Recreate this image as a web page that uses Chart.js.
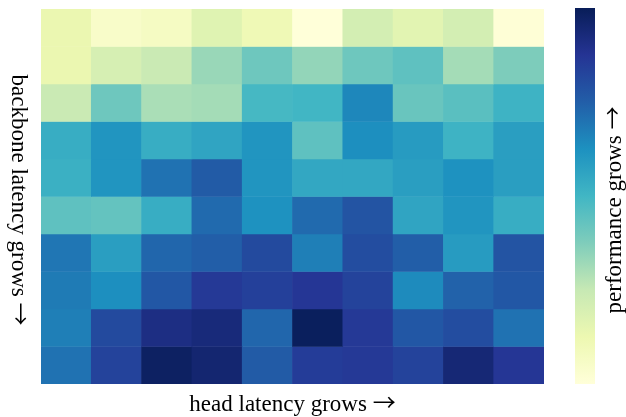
<!DOCTYPE html>
<html>
<head>
<meta charset="utf-8">
<script src="https://cdn.jsdelivr.net/npm/chart.js@4/dist/chart.umd.min.js"></script>
<style>
  html, body { margin: 0; padding: 0; background: #ffffff; }
  #wrap { position: relative; width: 626px; height: 417px; overflow: hidden; }
  #heat { position: absolute; left: 0; top: 0; }
  #cbar { position: absolute; left: 560px; top: 0; }
</style>
</head>
<body>
<div id="wrap">
  <canvas id="heat" width="560" height="417"></canvas>
  <canvas id="cbar" width="66" height="417"></canvas>
</div>
<script>
// Head latency settings (columns, left to right)
const headSteps = ['H1', 'H2', 'H3', 'H4', 'H5', 'H6', 'H7', 'H8', 'H9', 'H10'];
// Backbone latency settings (rows, top to bottom)
const backboneSteps = ['B1', 'B2', 'B3', 'B4', 'B5', 'B6', 'B7', 'B8', 'B9', 'B10'];

// Normalised performance per backbone row
const perfB1  = [0.13, 0.05, 0.07, 0.17, 0.11, 0.00, 0.21, 0.16, 0.21, 0.01];
const perfB2  = [0.13, 0.20, 0.24, 0.33, 0.41, 0.34, 0.41, 0.44, 0.31, 0.38];
const perfB3  = [0.24, 0.41, 0.30, 0.31, 0.49, 0.50, 0.65, 0.42, 0.45, 0.51];
const perfB4  = [0.53, 0.61, 0.53, 0.56, 0.61, 0.44, 0.63, 0.59, 0.51, 0.58];
const perfB5  = [0.52, 0.61, 0.70, 0.76, 0.61, 0.55, 0.55, 0.58, 0.62, 0.58];
const perfB6  = [0.44, 0.43, 0.53, 0.72, 0.62, 0.72, 0.78, 0.56, 0.61, 0.53];
const perfB7  = [0.69, 0.58, 0.73, 0.75, 0.81, 0.67, 0.80, 0.75, 0.59, 0.78];
const perfB8  = [0.68, 0.63, 0.77, 0.86, 0.84, 0.87, 0.83, 0.64, 0.74, 0.77];
const perfB9  = [0.67, 0.81, 0.91, 0.93, 0.73, 0.99, 0.86, 0.77, 0.80, 0.70];
const perfB10 = [0.70, 0.83, 0.98, 0.95, 0.76, 0.85, 0.86, 0.83, 0.94, 0.87];
const perfRows = [perfB1, perfB2, perfB3, perfB4, perfB5, perfB6, perfB7, perfB8, perfB9, perfB10];

// Axis captions
const headCaption = 'head latency grows ';
const backboneCaption = 'backbone latency grows ';
const perfCaption = 'performance grows ';
const ARROW = '\u2192';

// YlGnBu colour ramp
const ylgnbuStops = ['#ffffd9', '#edf8b1', '#c7e9b4', '#7fcdbb', '#41b6c4',
                     '#1d91c0', '#225ea8', '#253494', '#081d58'];

function hexToRgb(h) {
  return [parseInt(h.slice(1, 3), 16), parseInt(h.slice(3, 5), 16), parseInt(h.slice(5, 7), 16)];
}
function ylgnbu(v) {
  const t = Math.min(1, Math.max(0, v)) * (ylgnbuStops.length - 1);
  const i = Math.min(ylgnbuStops.length - 2, Math.floor(t));
  const f = t - i;
  const a = hexToRgb(ylgnbuStops[i]), b = hexToRgb(ylgnbuStops[i + 1]);
  const c = a.map((x, k) => Math.round(x + (b[k] - x) * f));
  return `rgb(${c[0]},${c[1]},${c[2]})`;
}

const TEXT_FONT = '23px "Liberation Serif", "DejaVu Serif", serif';
const ARROW_FONT = '23px "Noto Sans CJK SC", "DejaVu Sans", sans-serif';

// Draws "caption →" centred on (cx, cy) after rotating by angle
function drawCaption(ctx, text, cx, cy, angle) {
  ctx.save();
  ctx.fillStyle = '#000000';
  ctx.textBaseline = 'alphabetic';
  ctx.textAlign = 'left';
  ctx.font = TEXT_FONT;
  const w1 = ctx.measureText(text).width;
  ctx.font = ARROW_FONT;
  const w2 = ctx.measureText(ARROW).width;
  ctx.translate(cx, cy);
  ctx.rotate(angle);
  const x0 = -(w1 + w2) / 2;
  ctx.font = TEXT_FONT;
  ctx.fillText(text, x0, 7);
  ctx.font = ARROW_FONT;
  ctx.fillText(ARROW, x0 + w1, 7);
  ctx.restore();
}

const heatTitles = {
  id: 'heatTitles',
  afterDraw(chart) {
    const { ctx, chartArea } = chart;
    drawCaption(ctx, headCaption, (chartArea.left + chartArea.right) / 2, 404, 0);
    drawCaption(ctx, backboneCaption, 19, 200, Math.PI / 2);
  }
};

new Chart(document.getElementById('heat'), {
  type: 'bar',
  data: {
    labels: headSteps,
    datasets: backboneSteps.map((name, r) => ({
      label: name,
      data: headSteps.map(() => [r, r + 1]),
      backgroundColor: perfRows[r].map(ylgnbu),
      borderWidth: 0,
      barPercentage: 1,
      categoryPercentage: 1,
      grouped: false
    }))
  },
  options: {
    responsive: false,
    animation: false,
    devicePixelRatio: 1,
    layout: { padding: { left: 41, right: 16, top: 9, bottom: 33 } },
    plugins: { legend: { display: false }, tooltip: { enabled: false } },
    scales: {
      x: { type: 'category', display: false },
      y: { type: 'linear', min: 0, max: backboneSteps.length, reverse: true, display: false }
    }
  },
  plugins: [heatTitles]
});

const cbarTitle = {
  id: 'cbarTitle',
  afterDraw(chart) {
    drawCaption(chart.ctx, perfCaption, 54, 210, -Math.PI / 2);
  }
};

new Chart(document.getElementById('cbar'), {
  type: 'bar',
  data: {
    labels: ['performance'],
    datasets: [{
      data: [[0, 1]],
      backgroundColor(context) {
        const { chart } = context;
        const area = chart.chartArea;
        if (!area) return ylgnbuStops[4];
        const g = chart.ctx.createLinearGradient(0, area.bottom, 0, area.top);
        ylgnbuStops.forEach((s, i) => g.addColorStop(i / (ylgnbuStops.length - 1), s));
        return g;
      },
      borderWidth: 0,
      barPercentage: 1,
      categoryPercentage: 1
    }]
  },
  options: {
    responsive: false,
    animation: false,
    devicePixelRatio: 1,
    layout: { padding: { left: 15, right: 31, top: 8, bottom: 33 } },
    plugins: { legend: { display: false }, tooltip: { enabled: false } },
    scales: {
      x: { type: 'category', display: false },
      y: { type: 'linear', min: 0, max: 1, display: false }
    }
  },
  plugins: [cbarTitle]
});
</script>
</body>
</html>
